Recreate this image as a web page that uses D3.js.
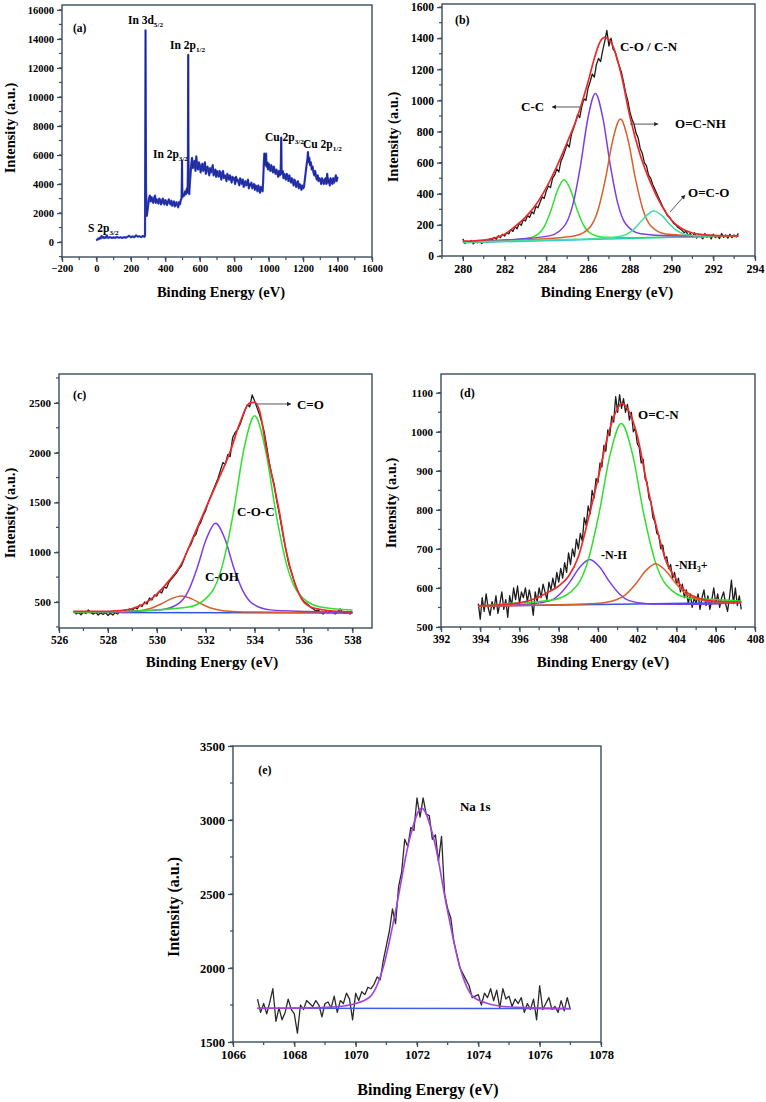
<!DOCTYPE html>
<html><head><meta charset="utf-8">
<script src="https://cdn.jsdelivr.net/npm/d3@7"></script>
<style>body{margin:0;background:#fff}svg{display:block}text{font-family:"Liberation Serif","Times New Roman",serif;font-weight:bold;fill:#000}</style>
</head><body><div id="chart"></div>
<script>
// ---------------- DATA ----------------
// (a) survey spectrum [binding energy, intensity]
const aSurvey = [[0,100],[5,180],[10,250],[15,200],[20,300],[25,260],[30,420],[35,300],[40,360],[45,280],[50,330],[55,300],[60,460],[65,310],[70,290],[80,340],[90,280],[100,320],[110,290],[120,350],[130,300],[140,330],[150,280],[160,340],[170,300],[180,360],[190,430],[200,330],[210,390],[220,340],[230,460],[240,370],[250,400],[260,340],[270,430],[278,360],[282,420],[284,9000],[285,14600],[286.5,8000],[288,3600],[292,1800],[296,2100],[300,2500],[305,3000],[310,3200],[315,2800],[320,3100],[325,2900],[330,2700],[335,3050],[340,3200],[345,2700],[350,2950],[355,2800],[360,2650],[365,3000],[370,2900],[375,2600],[380,2800],[385,3000],[390,2700],[395,2600],[400,2900],[405,2800],[410,2550],[415,2750],[420,2950],[425,2700],[430,2600],[435,2850],[440,2500],[445,2700],[450,2800],[455,2450],[460,2650],[465,2750],[470,2500],[475,2400],[480,2750],[485,2600],[490,2900],[494,3000],[496,4300],[497,5600],[498,3900],[500,3100],[505,3300],[510,3200],[515,3500],[520,3300],[525,3700],[529,3400],[531,5000],[533,12900],[534,7000],[536,3700],[539,3300],[542,4000],[546,4600],[550,5300],[555,5800],[560,5100],[565,5400],[570,5600],[575,4900],[580,5900],[585,5200],[590,5000],[595,5500],[600,5300],[605,4800],[610,5200],[615,5400],[620,4900],[625,5100],[630,5500],[635,4700],[640,5000],[645,5200],[650,4900],[655,4600],[660,5100],[665,4800],[670,5000],[675,5300],[680,4600],[685,4800],[690,5000],[695,4500],[700,4900],[705,4700],[710,4500],[715,4900],[720,4800],[725,4300],[730,4700],[735,4900],[740,4400],[745,4600],[750,4500],[755,4200],[760,4700],[765,4500],[770,4300],[775,4600],[780,4400],[785,4100],[790,4500],[795,4300],[800,4400],[805,4000],[810,4500],[815,4200],[820,4300],[825,4100],[830,3900],[835,4400],[840,4200],[845,4000],[850,4300],[855,3800],[860,4100],[865,4200],[870,3900],[875,4000],[880,4300],[885,3700],[890,4000],[895,3900],[900,4100],[905,3700],[910,3900],[915,4000],[920,3600],[925,3900],[930,3800],[935,3500],[940,3900],[945,3700],[950,3400],[955,3800],[960,3600],[965,3500],[968,4200],[972,5500],[975,6100],[978,5300],[982,5800],[985,6100],[988,5200],[992,5500],[996,5000],[1000,5400],[1005,5200],[1010,4900],[1015,5300],[1020,5100],[1025,4800],[1030,5200],[1035,4900],[1040,4700],[1045,5000],[1050,4800],[1055,4500],[1060,4900],[1065,4600],[1069,4700],[1071,5600],[1073,7200],[1075,5000],[1078,4700],[1082,4900],[1086,4400],[1090,4700],[1095,4600],[1100,4300],[1105,4700],[1110,4500],[1115,4200],[1120,4600],[1125,4300],[1130,4100],[1135,4400],[1140,4200],[1145,3900],[1150,4300],[1155,4100],[1160,3800],[1165,4100],[1170,4200],[1175,3700],[1180,4000],[1185,3900],[1190,3600],[1195,3900],[1200,3700],[1205,3800],[1210,4300],[1215,4800],[1220,5300],[1225,5700],[1228,6200],[1232,5500],[1236,5800],[1240,5300],[1245,5500],[1250,5000],[1255,5200],[1260,4800],[1265,4600],[1270,4900],[1275,4500],[1280,4300],[1285,4600],[1290,4200],[1295,4400],[1300,4300],[1305,4000],[1310,4400],[1315,4200],[1320,4000],[1325,4300],[1330,4400],[1335,4000],[1340,4700],[1345,4100],[1350,4300],[1355,3900],[1360,4400],[1365,4200],[1370,4000],[1375,4400],[1380,4100],[1385,4300],[1390,4600],[1395,4200],[1400,4500]];
const aXTicks = [-200,0,200,400,600,800,1000,1200,1400,1600];
const aYTicks = [0,2000,4000,6000,8000,10000,12000,14000,16000];

// (b) C 1s: raw data from 280.0 eV, step 0.1 eV
const bRawStart = 280.0, bRawStep = 0.1;
const bRaw = [110,80,95,88,100,78,92,85,98,80,96,105,88,112,100,120,108,130,118,140,128,150,142,170,158,190,175,210,198,235,225,260,248,285,272,320,310,345,380,370,420,450,440,500,520,560,540,610,640,680,720,700,780,820,860,910,890,960,1010,1000,1080,1120,1170,1150,1230,1270,1250,1320,1380,1450,1350,1400,1330,1310,1260,1220,1180,1120,1050,1000,930,880,850,790,760,690,660,600,580,520,500,460,430,400,370,340,310,290,260,250,230,210,200,185,175,165,150,160,130,145,120,150,115,140,125,110,145,120,135,110,140,118,130,112,145,120,135,115,140,118,135,122,145];
const bEnvelope = [[280,95],[281,102],[281.5,115],[282,140],[282.5,190],[283,250],[283.5,330],[284,440],[284.5,575],[285,730],[285.5,900],[286,1120],[286.3,1270],[286.55,1370],[286.8,1405],[287.05,1385],[287.3,1310],[287.6,1160],[288,900],[288.5,650],[289,470],[289.5,330],[290,230],[290.5,175],[291,148],[291.5,138],[292,133],[293.2,130]];
const bCC = [[280,90],[281.75,100],[282.99,111],[283.61,141],[283.92,194],[284.23,296],[284.54,424],[284.85,490],[285.16,425],[285.47,299],[285.78,199],[286.09,148],[286.71,121],[287.95,118],[293.2,128]];
const bCOCN = [[280,90],[282.75,109],[284.19,131],[284.91,202],[285.27,330],[285.63,575],[285.99,884],[286.35,1045],[286.71,886],[287.07,579],[287.43,335],[287.79,209],[288.51,143],[289.95,130],[293.2,128]];
const bOCNH = [[280,90],[283.95,111],[285.39,130],[286.11,188],[286.47,292],[286.83,494],[287.19,748],[287.55,880],[287.91,750],[288.27,498],[288.63,299],[288.99,196],[289.71,142],[291.15,131],[293.2,128]];
const bOCO = [[280,88],[285.4,108],[286.9,115],[287.65,130],[288.03,154],[288.4,201],[288.78,258],[289.15,290],[289.53,261],[289.9,206],[290.28,161],[290.65,139],[291.4,128],[292.9,129],[293.2,128]];
const bBase = [[280,85],[283,95],[286,106],[289,117],[291,124],[293.2,130]];
const bXTicks = [280,282,284,286,288,290,292,294];
const bYTicks = [0,200,400,600,800,1000,1200,1400,1600];

// (c) O 1s: raw from 526.6 eV, step 0.1
const cRawStart = 526.6, cRawStep = 0.1;
const cRaw = [410,380,395,372,400,385,420,392,378,398,370,390,375,395,365,388,370,392,380,410,395,420,400,430,415,445,430,470,455,500,480,540,520,570,560,610,590,650,640,700,730,760,790,830,860,920,990,1040,1080,1150,1180,1260,1300,1370,1420,1500,1560,1620,1680,1740,1820,1900,1880,1980,1960,2150,2200,2230,2280,2350,2420,2480,2460,2580,2520,2450,2380,2300,2200,2050,1900,1780,1680,1520,1400,1260,1120,1000,880,800,720,650,590,550,510,490,470,445,430,410,420,395,380,405,390,412,395,380,400,430,395,385,405,380,400];
const cEnvelope = [[526.6,405],[527.5,405],[528.5,415],[529,435],[529.5,485],[530,580],[530.5,715],[531,880],[531.5,1160],[532,1440],[532.5,1720],[533,2010],[533.4,2300],[533.8,2500],[534,2505],[534.2,2420],[534.5,2010],[534.8,1660],[535,1420],[535.3,1000],[535.6,720],[535.9,540],[536.3,450],[537,415],[538,400]];
const cCOH_low = [[526.6,397],[526.75,397],[528.45,400],[529.3,412],[529.73,434],[530.15,478],[530.58,532],[531,560],[531.43,532],[531.85,478],[532.28,434],[532.7,412],[533.55,400],[535.25,397],[538,395]];
const cCOH = [[526.6,396],[528.65,404],[530.15,421],[530.9,486],[531.28,607],[531.65,842],[532.03,1137],[532.4,1290],[532.78,1137],[533.15,842],[533.53,607],[533.9,486],[534.65,421],[536.15,404],[538,393]];
const cCOC = [[526.6,395],[529.6,416],[531.36,453],[532.24,598],[532.68,865],[533.12,1381],[533.56,2032],[534,2370],[534.44,2032],[534.88,1381],[535.32,865],[535.76,598],[536.64,453],[538,420]];
const cBase = [[526.6,395],[538,390]];
const cXTicks = [526,528,530,532,534,536,538];
const cYTicks = [500,1000,1500,2000,2500];

// (d) N 1s: raw from 393.9 eV, step 0.1
const dRawStart = 393.9, dRawStep = 0.1;
const dRaw = [560,520,575,540,585,550,530,565,545,580,535,560,590,545,570,525,580,555,600,570,605,560,590,575,600,565,595,570,530,590,565,
  600,575,610,590,570,615,595,625,600,640,615,650,625,665,640,690,660,700,680,725,700,740,720,780,760,810,790,850,830,880,870,920,910,965,950,1005,990,1040,1025,1090,1050,1095,1060,1085,1050,
  1070,1030,1050,1000,1010,970,960,920,930,880,870,830,820,780,770,740,735,700,710,675,680,650,660,625,640,610,625,590,610,575,595,560,585,550,575,560,585,545,575,595,555,580,545,570,600,560,585,550,575,590,560,540,575,620,560,600,555,580,545];
const dEnvelope = [[393.9,555],[395,557],[396,562],[396.5,568],[397,577],[397.5,590],[398,605],[398.5,630],[399,680],[399.5,775],[400,880],[400.5,990],[401,1060],[401.2,1073],[401.5,1060],[402,990],[402.5,865],[403,752],[403.5,665],[404,622],[404.5,590],[405,576],[405.5,569],[406,566],[407.3,564]];
const dNH = [[393.9,553],[394.48,554],[396.52,559],[397.54,567],[398.05,584],[398.56,615],[399.07,653],[399.58,673],[400.09,653],[400.6,615],[401.11,584],[401.62,567],[402.64,559],[404.68,558],[407.3,563]];
const dOCN = [[393.9,553],[395.49,560],[397.77,570],[398.91,605],[399.48,668],[400.05,790],[400.62,942],[401.19,1021],[401.76,942],[402.33,790],[402.9,670],[403.47,608],[404.61,574],[406.89,568],[407.3,566]];
const dNH3 = [[393.9,553],[397.84,557],[399.88,560],[400.9,569],[401.41,583],[401.92,610],[402.43,644],[402.94,662],[403.45,644],[403.96,612],[404.47,585],[404.98,572],[406,564],[407.3,563]];
const dBase = [[393.9,553],[407.3,563]];
const dXTicks = [392,394,396,398,400,402,404,406,408];
const dYTicks = [500,600,700,800,900,1000,1100];

// (e) Na 1s: raw from 1066.8 eV, step 0.1
const eRawStart = 1066.8, eRawStep = 0.1;
const eRaw = [1790,1700,1760,1690,1770,1860,1640,1730,1650,1700,1790,1720,1690,1560,1750,1720,1780,1760,1740,1780,1750,1670,1760,1770,1730,1810,1700,1780,1760,1830,1790,1650,1830,1780,1840,1820,1870,1860,1890,1940,1920,2050,2150,2250,2400,2300,2550,2650,2870,2820,2950,2930,3150,3020,3150,3040,3030,2870,2900,2720,2890,2500,2400,2340,2180,2090,2000,1960,1920,1880,1800,1810,1820,1750,1830,1800,1860,1780,1850,1730,1860,1790,1810,1740,1790,1760,1800,1700,1760,1720,1790,1650,1880,1720,1760,1800,1720,1740,1700,1780,1710,1800,1720];
const eFit = [[1066.8,1727],[1068,1729],[1069,1734],[1069.66,1745],[1070.08,1765],[1070.49,1810],[1070.9,2005],[1071.32,2403],[1071.74,2855],[1072.15,3080],[1072.57,2855],[1072.98,2403],[1073.4,2005],[1073.81,1810],[1074.23,1765],[1074.64,1745],[1075.5,1732],[1077,1726]];
const eBase = [[1066.8,1728],[1077,1725]];
const eXTicks = [1066,1068,1070,1072,1074,1076,1078];
const eYTicks = [1500,2000,2500,3000,3500];

// ---------------- DRAW ----------------
const svg = d3.select("#chart").append("svg").attr("width",766).attr("height",1102);
const AX = "#3b4d5c";

function rawPts(start, step, vals){ return vals.map((v,i)=>[start+i*step, v]); }

function panel(c){
  const x = d3.scaleLinear().domain(c.xd).range([c.l, c.r]);
  const y = d3.scaleLinear().domain(c.yd).range([c.b, c.t]);
  const g = svg.append("g");
  g.append("rect").attr("x",c.l).attr("y",c.t).attr("width",c.r-c.l).attr("height",c.b-c.t)
    .attr("fill","none").attr("stroke",AX).attr("stroke-width",1.4);
  const xm = d3.range(c.xd[0], c.xd[1]+1e-9, c.xMinor).filter(v=>v>=c.xd[0]&&v<=c.xd[1]);
  g.selectAll(null).data(xm).join("line").attr("x1",d=>x(d)).attr("x2",d=>x(d))
    .attr("y1",c.b).attr("y2",c.b+3).attr("stroke",AX).attr("stroke-width",1.2);
  const y0 = Math.ceil(c.yd[0]/c.yMinor)*c.yMinor;
  const ym = d3.range(y0, c.yd[1]+1e-9, c.yMinor);
  g.selectAll(null).data(ym).join("line").attr("y1",d=>y(d)).attr("y2",d=>y(d))
    .attr("x1",c.l).attr("x2",c.l-3).attr("stroke",AX).attr("stroke-width",1.2);
  const xa = g.append("g").attr("transform",`translate(0,${c.b})`)
    .call(d3.axisBottom(x).tickValues(c.xt).tickSize(5).tickPadding(3).tickFormat(d3.format("d")));
  const ya = g.append("g").attr("transform",`translate(${c.l},0)`)
    .call(d3.axisLeft(y).tickValues(c.yt).tickSize(5).tickPadding(3).tickFormat(d3.format("d")));
  [xa,ya].forEach(a=>{ a.select(".domain").remove(); a.selectAll("line").attr("stroke",AX).attr("stroke-width",1.3);
    a.selectAll("text").attr("font-family","Liberation Serif, serif").attr("font-weight","bold").attr("fill","#000"); });
  xa.selectAll("text").attr("font-size",c.xFs);
  ya.selectAll("text").attr("font-size",c.yFs);
  g.append("text").attr("x",c.xTitle[0]).attr("y",c.xTitle[1]).attr("text-anchor","middle")
    .attr("font-size",c.titleFs).text("Binding Energy (eV)");
  g.append("text").attr("transform",`translate(${c.yTitle[0]},${c.yTitle[1]}) rotate(-90)`)
    .attr("text-anchor","middle").attr("font-size",c.yTitleFs).text("Intensity (a.u.)");
  c.series.forEach(s=>{
    const line = d3.line().x(d=>x(d[0])).y(d=>y(d[1])).curve(s.smooth? d3.curveMonotoneX : d3.curveLinear);
    g.append("path").attr("d",line(s.pts)).attr("fill","none").attr("stroke",s.color)
      .attr("stroke-width",s.w||1.5).attr("stroke-linejoin","round");
  });
  (c.arrows||[]).forEach(a=>{
    const x1=x(a[0]),y1=y(a[1]),x2=x(a[2]),y2=y(a[3]);
    g.append("line").attr("x1",x1).attr("y1",y1).attr("x2",x2).attr("y2",y2).attr("stroke","#555").attr("stroke-width",1);
    const ang = Math.atan2(y2-y1,x2-x1);
    const L=4, W=2.2;
    const p = [[x2,y2],[x2-L*Math.cos(ang)+W*Math.sin(ang), y2-L*Math.sin(ang)-W*Math.cos(ang)],
               [x2-L*Math.cos(ang)-W*Math.sin(ang), y2-L*Math.sin(ang)+W*Math.cos(ang)]];
    g.append("path").attr("d","M"+p.map(q=>q.join(",")).join("L")+"Z").attr("fill","#222");
  });
  (c.labels||[]).forEach(lb=>{
    const t = g.append("text").attr("x",x(lb.x)).attr("y",y(lb.y)).attr("font-size",lb.fs);
    lb.parts.forEach(p=>{
      const ts = t.append("tspan").text(p.t);
      if(p.sub){ ts.attr("font-size",lb.fs*0.62).attr("dy",3); }
      if(p.back){ ts.attr("dy",-3); }
    });
  });
}

// (a)
panel({l:62,r:372,t:5,b:257,xd:[-200,1600],yd:[-1030,16340],xt:aXTicks,yt:aYTicks,xMinor:100,yMinor:1000,
  xFs:10.5,yFs:10.5,titleFs:14.5,yTitleFs:14.5,xTitle:[221,297],yTitle:[15,128],
  series:[{pts:aSurvey,color:"#3343d6",w:2.2},{pts:aSurvey,color:"#1a2378",w:0.8}],
  labels:[
    {x:-136,y:14500,fs:11.5,parts:[{t:"(a)"}]},
    {x:183,y:15030,fs:11.5,parts:[{t:"In 3d"},{t:"5/2",sub:true}]},
    {x:427,y:13310,fs:11.5,parts:[{t:"In 2p"},{t:"1/2",sub:true}]},
    {x:328,y:5790,fs:11.5,parts:[{t:"In 2p"},{t:"3/2",sub:true}]},
    {x:979,y:6970,fs:11.5,parts:[{t:"Cu 2p"},{t:"3/2",sub:true}]},
    {x:1199,y:6480,fs:11.5,parts:[{t:"Cu 2p"},{t:"1/2",sub:true}]},
    {x:-49,y:690,fs:11.5,parts:[{t:"S 2p"},{t:"3/2",sub:true}]}
  ]});

// (b)
panel({l:442,r:755,t:4,b:256,xd:[279,294],yd:[0,1620],xt:bXTicks,yt:bYTicks,xMinor:1,yMinor:100,
  xFs:12,yFs:11.5,titleFs:15,yTitleFs:14.5,xTitle:[607,297],yTitle:[398,137],
  series:[
    {pts:rawPts(bRawStart,bRawStep,bRaw),color:"#1c1c1c",w:1.3},
    {pts:bBase,color:"#2fc4ea",w:1.5,smooth:true},
    {pts:bCC,color:"#2fe02f",w:1.5,smooth:true},
    {pts:bCOCN,color:"#7b3ee6",w:1.5,smooth:true},
    {pts:bOCNH,color:"#d8602a",w:1.5,smooth:true},
    {pts:bOCO,color:"#3fe0a0",w:1.5,smooth:true},
    {pts:bEnvelope,color:"#ec2a2a",w:1.7,smooth:true}
  ],
  arrows:[[285.71,958,284.27,958],[288.01,848,289.36,848],[289.93,283,290.65,392]],
  labels:[
    {x:279.62,y:1491,fs:12,parts:[{t:"(b)"}]},
    {x:287.53,y:1317,fs:13,parts:[{t:"C-O / C-N"}]},
    {x:282.79,y:932,fs:13,parts:[{t:"C-C"}]},
    {x:290.17,y:823,fs:13,parts:[{t:"O=C-NH"}]},
    {x:290.79,y:379,fs:13,parts:[{t:"O=C-O"}]}
  ]});

// (c)
panel({l:59,r:372,t:374,b:628,xd:[526,538.8],yd:[239,2790],xt:cXTicks,yt:cYTicks,xMinor:1,yMinor:250,
  xFs:11.5,yFs:11,titleFs:15,yTitleFs:14.5,xTitle:[212,667],yTitle:[15,513],
  series:[
    {pts:rawPts(cRawStart,cRawStep,cRaw),color:"#1c1c1c",w:1.3},
    {pts:cBase,color:"#2f55e8",w:1.5},
    {pts:cCOH_low,color:"#d8602a",w:1.5,smooth:true},
    {pts:cCOH,color:"#7b3ee6",w:1.5,smooth:true},
    {pts:cCOC,color:"#2fe02f",w:1.5,smooth:true},
    {pts:cEnvelope,color:"#ec2a2a",w:1.7,smooth:true}
  ],
  arrows:[[534.01,2489,535.49,2489]],
  labels:[
    {x:526.57,y:2539,fs:12,parts:[{t:"(c)"}]},
    {x:535.73,y:2438,fs:13,parts:[{t:"C=O"}]},
    {x:533.28,y:1364,fs:13,parts:[{t:"C-O-C"}]},
    {x:531.97,y:711,fs:13,parts:[{t:"C-OH"}]}
  ]});

// (d)
panel({l:441,r:755,t:374,b:627,xd:[392,408],yd:[500,1148],xt:dXTicks,yt:dYTicks,xMinor:1,yMinor:50,
  xFs:11.5,yFs:11,titleFs:15,yTitleFs:14.5,xTitle:[603,667],yTitle:[396,503],
  series:[
    {pts:rawPts(dRawStart,dRawStep,dRaw),color:"#1c1c1c",w:1.3},
    {pts:dBase,color:"#2f55e8",w:1.5},
    {pts:dNH,color:"#7b3ee6",w:1.5,smooth:true},
    {pts:dOCN,color:"#2fe02f",w:1.5,smooth:true},
    {pts:dNH3,color:"#d8602a",w:1.5,smooth:true},
    {pts:dEnvelope,color:"#ec2a2a",w:1.7,smooth:true}
  ],
  labels:[
    {x:392.97,y:1089,fs:12,parts:[{t:"(d)"}]},
    {x:402.04,y:1033,fs:13,parts:[{t:"O=C-N"}]},
    {x:400.15,y:674,fs:12,parts:[{t:"-N-H"}]},
    {x:403.92,y:649,fs:12,parts:[{t:"-NH"},{t:"3",sub:true},{t:"+",back:true}]}
  ]});

// (e)
panel({l:233,r:601,t:746,b:1042,xd:[1066,1078],yd:[1500,3500],xt:eXTicks,yt:eYTicks,xMinor:1,yMinor:250,
  xFs:12.5,yFs:12.5,titleFs:16,yTitleFs:16,xTitle:[428,1095],yTitle:[179,907],
  series:[
    {pts:rawPts(eRawStart,eRawStep,eRaw),color:"#2a2a2a",w:1.3},
    {pts:eBase,color:"#3a5ee8",w:1.5},
    {pts:eFit,color:"#a244dc",w:1.6,smooth:true}
  ],
  labels:[
    {x:1066.82,y:3311,fs:12,parts:[{t:"(e)"}]},
    {x:1073.4,y:3061,fs:13,parts:[{t:"Na 1s"}]}
  ]});
</script></body></html>
